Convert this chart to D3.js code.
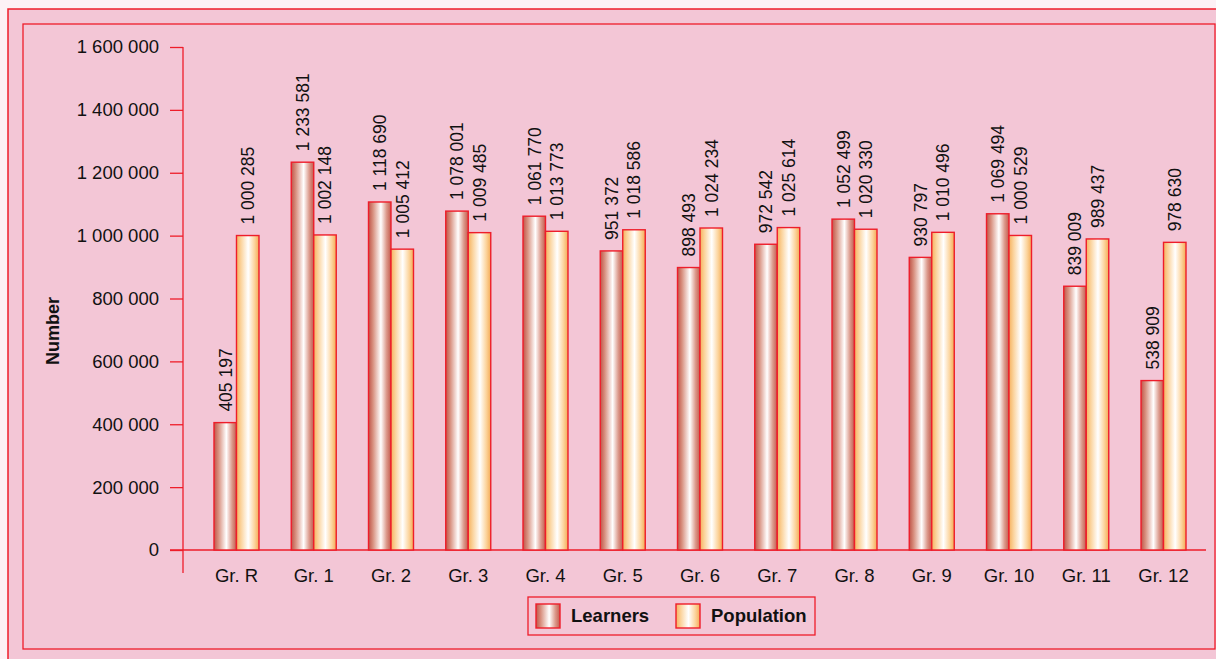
<!DOCTYPE html>
<html>
<head>
<meta charset="utf-8">
<script src="https://cdn.jsdelivr.net/npm/d3@7"></script>
<style>
  body { margin: 0; background: #fdf1f5; }
  svg { display: block; font-family: 'Liberation Sans', Arial, Helvetica, sans-serif; }
  .tick text { font-size: 18.5px; fill: #111; }
</style>
</head>
<body>
<div id="chart"></div>
<script>
const grades = ['Gr. R', 'Gr. 1', 'Gr. 2', 'Gr. 3', 'Gr. 4', 'Gr. 5', 'Gr. 6', 'Gr. 7', 'Gr. 8', 'Gr. 9', 'Gr. 10', 'Gr. 11', 'Gr. 12']
// bar heights as drawn (Gr. 2 bars are drawn lower than their printed values)
const learners = [405197, 1233581, 1107000, 1078001, 1061770, 951372, 898493, 972542, 1052499, 930797, 1069494, 839009, 538909]
const population = [1000285, 1002148, 957000, 1009485, 1013773, 1018586, 1024234, 1025614, 1020330, 1010496, 1000529, 989437, 978630]
// printed value labels
const learnersLabels = ['405 197', '1 233 581', '1 118 690', '1 078 001', '1 061 770', '951 372', '898 493', '972 542', '1 052 499', '930 797', '1 069 494', '839 009', '538 909']
const populationLabels = ['1 000 285', '1 002 148', '1 005 412', '1 009 485', '1 013 773', '1 018 586', '1 024 234', '1 025 614', '1 020 330', '1 010 496', '1 000 529', '989 437', '978 630']
const series = ['Learners', 'Population']
const yTicks = [0, 200000, 400000, 600000, 800000, 1000000, 1200000, 1400000, 1600000]

const config = {
  width: 1216,
  height: 659,
  pink: '#f3c6d6',
  red: '#ee1d2a'
}

const rows = grades.map((g, i) => ({
  grade: g,
  values: [
    { key: 'Learners', value: learners[i], label: learnersLabels[i] },
    { key: 'Population', value: population[i], label: populationLabels[i] }
  ]
}))

const svg = d3.select('#chart')
  .append('svg')
    .attr('width', config.width)
    .attr('height', config.height)

// gradients
const defs = svg.append('defs')
const gradients = {
  Learners: [['0%', '#c05448'], ['20%', '#d8907f'], ['55%', '#ffffff'], ['80%', '#dc9a8c'], ['100%', '#c45a4c']],
  Population: [['0%', '#f6b25e'], ['20%', '#fbd39c'], ['52%', '#ffffff'], ['80%', '#fcd49d'], ['100%', '#f4ab55']]
}
Object.entries(gradients).forEach(([key, stops]) => {
  defs.append('linearGradient')
      .attr('id', `grad-${key}`)
      .attr('x1', '0%').attr('x2', '100%').attr('y1', '0%').attr('y2', '0%')
    .selectAll('stop')
    .data(stops)
    .join('stop')
      .attr('offset', d => d[0])
      .attr('stop-color', d => d[1])
})

// frames
svg.append('rect')
    .attr('x', 8).attr('y', 9)
    .attr('width', config.width).attr('height', config.height)
    .attr('fill', config.pink)
    .attr('stroke', config.red).attr('stroke-width', 1.5)
svg.append('rect')
    .attr('x', 23).attr('y', 24)
    .attr('width', 1192).attr('height', 625)
    .attr('fill', config.pink)
    .attr('stroke', config.red).attr('stroke-width', 1.3)

const x0 = d3.scaleBand()
  .domain(grades)
  .range([198, 1202])
  .paddingInner(0.4175)
  .paddingOuter(0.207)

const x1 = d3.scaleBand()
  .domain(series)
  .range([0, x0.bandwidth()])

const y = d3.scaleLinear()
  .domain([0, 1600000])
  .range([550, 47])

const fmt = d3.formatLocale({ thousands: ' ', grouping: [3], decimal: '.', currency: ['', ''] }).format(',')

// y axis
svg.append('g')
    .attr('class', 'axis y')
    .attr('transform', 'translate(183, 0)')
    .call(d3.axisLeft(y).tickValues(yTicks).tickFormat(fmt).tickSize(13).tickPadding(11))
    .call(g => g.select('.domain').remove())
    .call(g => g.selectAll('.tick line').attr('stroke', config.red).attr('stroke-width', 1.3))
svg.append('line')
    .attr('x1', 183).attr('x2', 183)
    .attr('y1', y(1600000)).attr('y2', 573)
    .attr('stroke', config.red).attr('stroke-width', 1.3)

// x axis baseline
svg.append('line')
    .attr('x1', 170).attr('x2', 1206)
    .attr('y1', y(0)).attr('y2', y(0))
    .attr('stroke', config.red).attr('stroke-width', 1.3)

svg.append('g')
    .attr('class', 'x labels')
  .selectAll('text')
  .data(grades)
  .join('text')
    .attr('x', d => x0(d) + x0.bandwidth() / 2)
    .attr('y', 582)
    .attr('text-anchor', 'middle')
    .attr('font-size', 18.5)
    .attr('fill', '#111')
    .text(d => d)

svg.append('text')
    .attr('transform', 'translate(59, 331) rotate(-90)')
    .attr('text-anchor', 'middle')
    .attr('font-size', 18)
    .attr('font-weight', 'bold')
    .attr('fill', '#111')
    .text('Number')

// bars
const groups = svg.append('g')
    .attr('class', 'bars')
  .selectAll('g')
  .data(rows)
  .join('g')
    .attr('transform', d => `translate(${x0(d.grade)}, 0)`)

groups.selectAll('rect')
  .data(d => d.values)
  .join('rect')
    .attr('x', d => x1(d.key))
    .attr('y', d => y(d.value))
    .attr('width', x1.bandwidth())
    .attr('height', d => y(0) - y(d.value))
    .attr('fill', d => `url(#grad-${d.key})`)
    .attr('stroke', config.red)
    .attr('stroke-width', 1.4)

groups.selectAll('text')
  .data(d => d.values)
  .join('text')
    .attr('transform', d => `translate(${x1(d.key) + x1.bandwidth() / 2}, ${y(d.value) - 11}) rotate(-90)`)
    .attr('dy', '0.36em')
    .attr('font-size', 17.5)
    .attr('fill', '#111')
    .text(d => d.label)

// legend
const legend = svg.append('g')
    .attr('class', 'legend')
    .attr('transform', 'translate(528, 597)')
legend.append('rect')
    .attr('width', 287).attr('height', 38)
    .attr('fill', 'none')
    .attr('stroke', config.red).attr('stroke-width', 1.3)
legend.selectAll('g')
  .data(series)
  .join('g')
    .attr('transform', (d, i) => `translate(${8 + i * 140}, 7)`)
  .call(g => g.append('rect')
    .attr('width', 24).attr('height', 24)
    .attr('fill', d => `url(#grad-${d})`)
    .attr('stroke', config.red).attr('stroke-width', 1.4))
  .call(g => g.append('text')
    .attr('x', 35).attr('y', 18)
    .attr('font-size', 18.5)
    .attr('font-weight', 'bold')
    .attr('fill', '#111')
    .text(d => d))
</script>
</body>
</html>
